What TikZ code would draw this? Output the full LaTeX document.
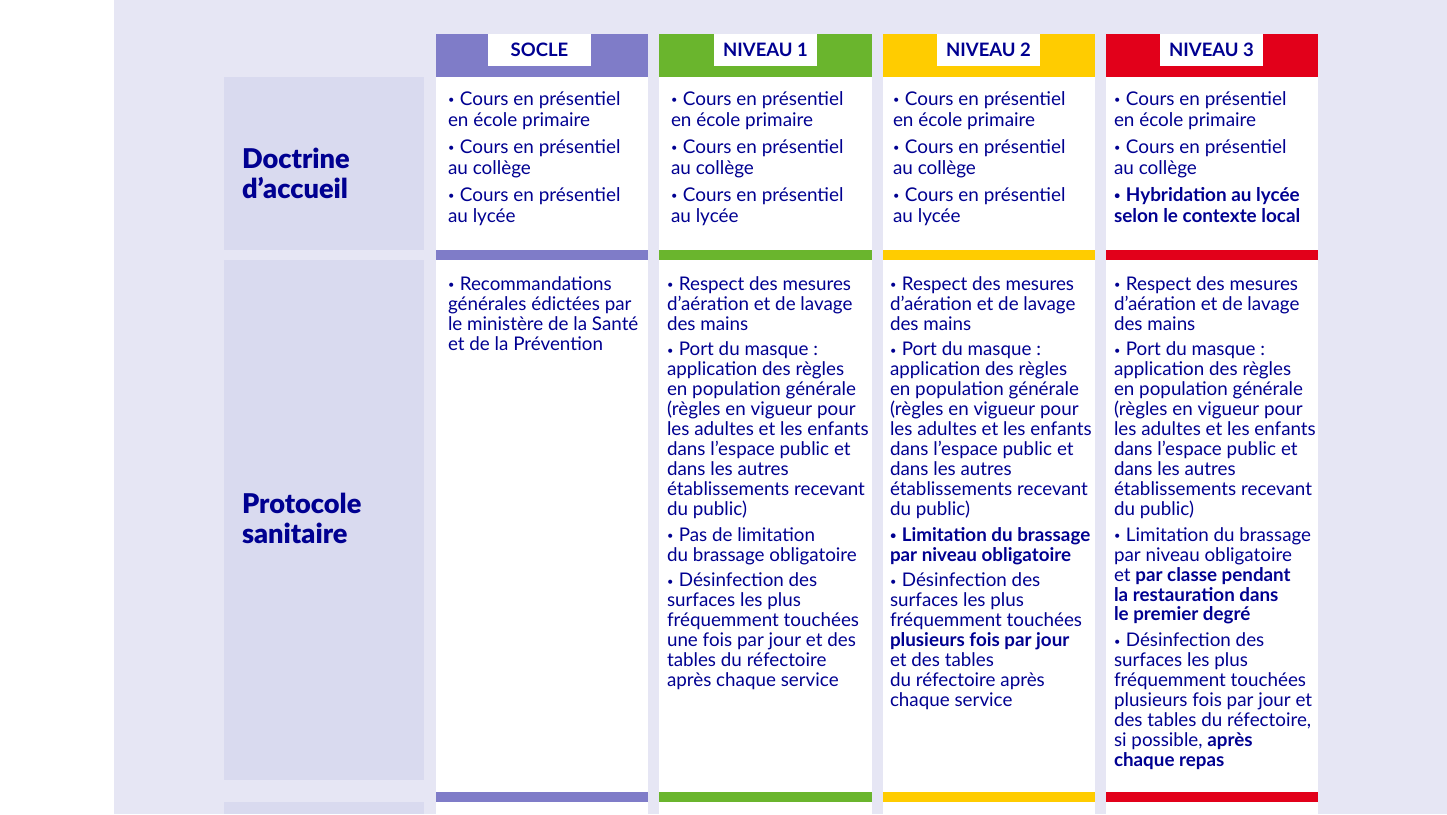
\documentclass[tikz,border=0pt]{standalone}
\usepackage{fontspec}
\setmainfont{Lato}
\newfontfamily\blackfont{Lato Black}
\usetikzlibrary{positioning}
\definecolor{panelblue}{HTML}{E6E6F4}
\definecolor{rowblue}{HTML}{D9DAEF}
\definecolor{navy}{HTML}{000091}
\definecolor{soclecol}{HTML}{7F7CC8}
\definecolor{greencol}{HTML}{6AB52D}
\definecolor{yellowcol}{HTML}{FFCC00}
\definecolor{redcol}{HTML}{E2001A}
\newcommand{\lfont}[2]{\fontsize{#1}{#2}\selectfont}
\newcommand{\bul}{\raisebox{1.5pt}{\lfont{11}{11}•}\hspace{5.5pt}}

\begin{document}
\begin{tikzpicture}[x=1pt,y=-1pt,
    block/.style={inner sep=0pt,outer sep=0pt,anchor=north west},
    rowhead/.style={block,fill=rowblue,minimum width=200pt},
    rowtitle/.style={block,text=navy,align=left,font=\lfont{27.2}{30}\blackfont},
    doc/.style={block,text=navy,align=left,font=\lfont{18.9}{21}},
    proto/.style={block,text=navy,align=left,font=\lfont{18.8}{19.95}}]
  \useasboundingbox (0,0) rectangle (1447,814);
  \node [block,fill=panelblue,minimum width=1333pt,minimum height=814pt] (panel) at (114,0) {};

  % left column
  \node [rowhead,minimum height=173pt] (r1) at (224,77) {};
  \node [rowhead,minimum height=520pt] (r2) at (224,260) {};
  \node [rowhead,minimum height=12pt] (r3) at (224,802) {};
  \node [rowtitle] (t1) at (242,148.5) {Doctrine\\d’accueil};
  \node [rowtitle] (t2) at (242,493.5) {Protocole\\sanitaire};

  % the four columns
  \foreach \n/\x/\w/\c/\lx/\t in {1/435.5/212.5/soclecol/539.5/SOCLE,
      2/659/212.5/greencol/765.5/NIVEAU 1,
      3/882.5/212.5/yellowcol/988.5/NIVEAU 2,
      4/1106/212/redcol/1211.5/NIVEAU 3} {
    \node [block,fill=\c,minimum width=\w pt,minimum height=43pt] (h\n) at (\x,33.5) {};
    \node [block,fill=white,minimum width=103pt,minimum height=32pt,anchor=north,
      text=navy,font=\lfont{18.5}{20}\bfseries] (l\n) at (\lx,33.5) {\t};
    \node [block,fill=white,minimum width=\w pt,minimum height=173.5pt,below=0pt of h\n] (a\n) {};
    \node [block,fill=\c,minimum width=\w pt,minimum height=10pt,below=0pt of a\n] (b\n) {};
    \node [block,fill=white,minimum width=\w pt,minimum height=532pt,below=0pt of b\n] (c\n) {};
    \node [block,fill=\c,minimum width=\w pt,minimum height=10pt,below=0pt of c\n] (d\n) {};
    \node [block,fill=white,minimum width=\w pt,minimum height=12pt,below=0pt of d\n] (e\n) {};
  }

  % first row
  \node [doc] (x1) at (448,91.5) {\bul Cours en présentiel\\en école primaire\\[6pt]\bul Cours en présentiel\\au collège\\[6pt]\bul Cours en présentiel\\au lycée};
  \node [doc] (x2) at (671,91.5) {\bul Cours en présentiel\\en école primaire\\[6pt]\bul Cours en présentiel\\au collège\\[6pt]\bul Cours en présentiel\\au lycée};
  \node [doc] (x3) at (893,91.5) {\bul Cours en présentiel\\en école primaire\\[6pt]\bul Cours en présentiel\\au collège\\[6pt]\bul Cours en présentiel\\au lycée};
  \node [doc] (x4) at (1114,91.5) {\bul Cours en présentiel\\en école primaire\\[6pt]\bul Cours en présentiel\\au collège\\[6pt]\textbf{\bul Hybridation au lycée}\\\textbf{selon le contexte local}};

  % second row
  \node [proto] (y1) at (448,276.5) {\bul Recommandations\\générales édictées par\\le ministère de la Santé\\et de la Prévention};
  \node [proto] (y2) at (667,276.5) {\bul Respect des mesures\\d’aération et de lavage\\des mains\\[5.7pt]\bul Port du masque :\\application des règles\\en population générale\\(règles en vigueur pour\\les adultes et les enfants\\dans l’espace public et\\dans les autres\\établissements recevant\\du public)\\[5.7pt]\bul Pas de limitation\\du brassage obligatoire\\[5.7pt]\bul Désinfection des\\surfaces les plus\\fréquemment touchées\\une fois par jour et des\\tables du réfectoire\\après chaque service};
  \node [proto] (y3) at (890,276.5) {\bul Respect des mesures\\d’aération et de lavage\\des mains\\[5.7pt]\bul Port du masque :\\application des règles\\en population générale\\(règles en vigueur pour\\les adultes et les enfants\\dans l’espace public et\\dans les autres\\établissements recevant\\du public)\\[5.7pt]\textbf{\bul Limitation du brassage}\\\textbf{par niveau obligatoire}\\[5.7pt]\bul Désinfection des\\surfaces les plus\\fréquemment touchées\\\textbf{plusieurs fois par jour}\\et des tables\\du réfectoire après\\chaque service};
  \node [proto] (y4) at (1114,276.5) {\bul Respect des mesures\\d’aération et de lavage\\des mains\\[5.7pt]\bul Port du masque :\\application des règles\\en population générale\\(règles en vigueur pour\\les adultes et les enfants\\dans l’espace public et\\dans les autres\\établissements recevant\\du public)\\[5.7pt]\bul Limitation du brassage\\par niveau obligatoire\\et \textbf{par classe pendant}\\\textbf{la restauration dans}\\\textbf{le premier degré}\\[5.7pt]\bul Désinfection des\\surfaces les plus\\fréquemment touchées\\plusieurs fois par jour et\\des tables du réfectoire,\\si possible, \textbf{après}\\\textbf{chaque repas}};
\end{tikzpicture}
\end{document}
